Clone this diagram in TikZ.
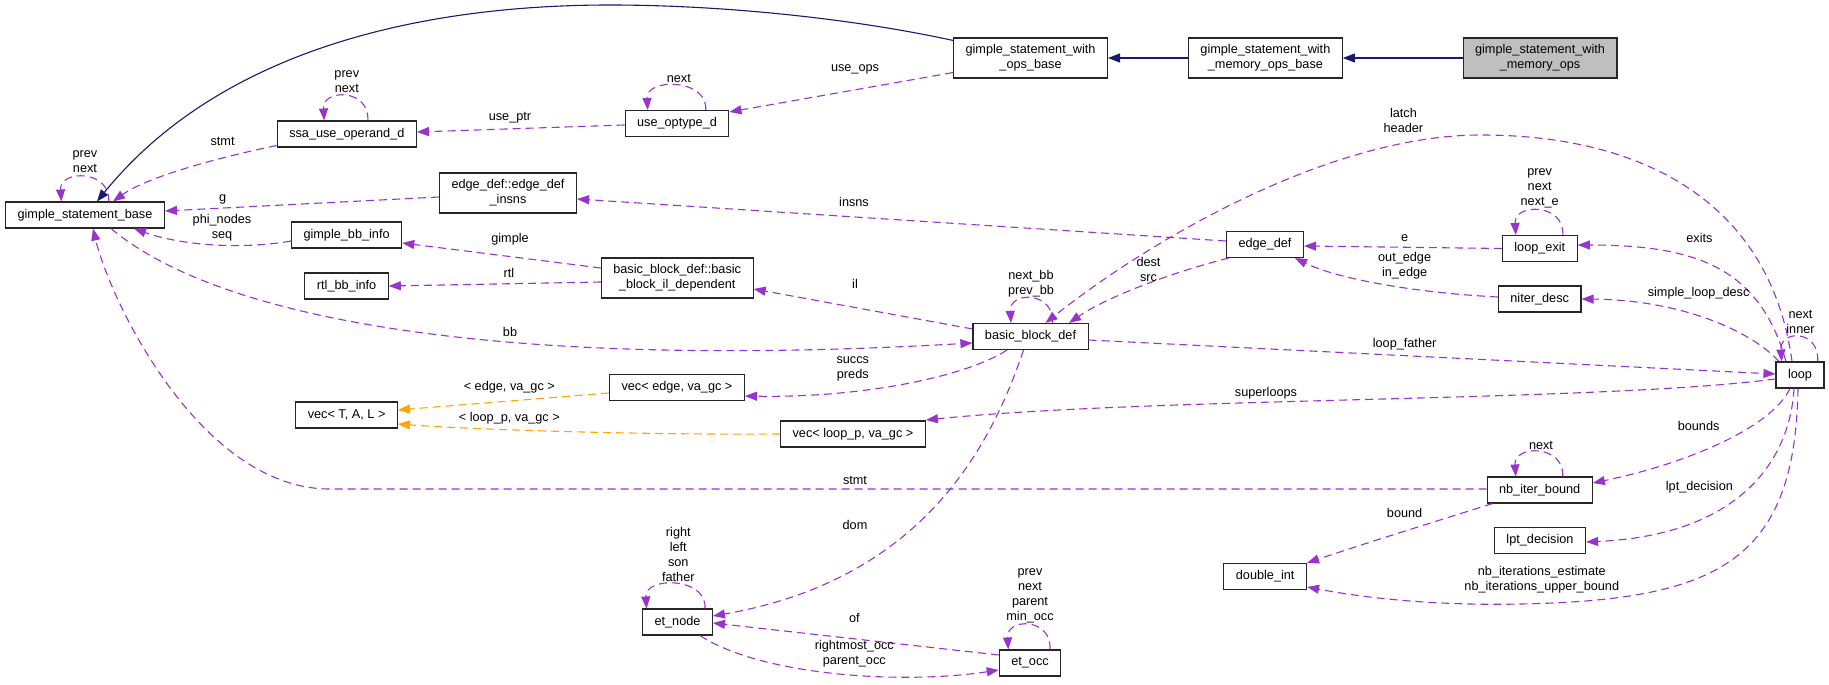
\documentclass[tikz,border=0pt]{standalone}
\usepackage{fontspec}
\setmainfont{Liberation Sans}
\usetikzlibrary{arrows.meta, positioning}
\definecolor{edgenavy}{HTML}{191970}
\definecolor{edgepurple}{HTML}{9A32CD}
\definecolor{edgeorange}{HTML}{FFA500}
\definecolor{focusgray}{HTML}{BFBFBF}
\tikzstyle{inharrow} = [draw=edgenavy, line width=1.1pt, -{Triangle[length=12pt,width=9pt]}]
\tikzstyle{memarrow} = [draw=edgepurple, line width=1.1pt, dash pattern=on 8pt off 5pt, -{Triangle[length=12pt,width=9pt]}]
\tikzstyle{tplarrow} = [draw=edgeorange, line width=1.1pt, dash pattern=on 8pt off 5pt, -{Triangle[length=12pt,width=9pt]}]

\begin{document}
\begin{tikzpicture}[
    x=1pt, y=-1pt,
    classblock/.style={rectangle, draw=black!85, line width=1.1pt, fill=white, inner xsep=12pt, inner ysep=3pt, minimum height=26pt, align=center, font=\fontsize{12.7}{15}\selectfont},
    twoline/.style={classblock, minimum height=40pt},
    focusblock/.style={twoline, fill=focusgray},
    edgelabel/.style={inner sep=0pt, align=center, font=\fontsize{12.7}{15}\selectfont},
]

\path[fill=white, use as bounding box] (0,0) rectangle (1829,685);

% Inheritance chain
\node[focusblock] (gswmo) at (1540,58) {gimple\_statement\_with\\\_memory\_ops};
\node[twoline] (gswmob) at (1265.4,58) {gimple\_statement\_with\\\_memory\_ops\_base};
\node[twoline] (gswob) at (1030.5,58) {gimple\_statement\_with\\\_ops\_base};

% Left columns
\node[classblock] (gsb) at (85,215) {gimple\_statement\_base};
\node[classblock] (ssa) at (346.8,134) {ssa\_use\_operand\_d};
\node[classblock] (gbbinfo) at (346.6,235) {gimple\_bb\_info};
\node[classblock] (rtlinfo) at (346.6,286) {rtl\_bb\_info};
\node[classblock] (vtal) at (346.6,415) {vec< T, A, L >};
\node[twoline] (insns) at (508,193) {edge\_def::edge\_def\\\_insns};
\node[classblock] (useop) at (677,123.5) {use\_optype\_d};
\node[twoline] (bbil) at (677.2,278) {basic\_block\_def::basic\\\_block\_il\_dependent};
\node[classblock] (vedge) at (677,387.5) {vec< edge, va\_gc >};
\node[classblock] (etnode) at (677.5,622) {et\_node};
\node[classblock] (vloop) at (853,434) {vec< loop\_p, va\_gc >};
\node[classblock] (bbd) at (1030.5,336.5) {basic\_block\_def};
\node[classblock] (etocc) at (1030,663) {et\_occ};

% Right columns
\node[classblock] (edef) at (1265,244.5) {edge\_def};
\node[classblock] (dint) at (1265.2,576.5) {double\_int};
\node[classblock] (lexit) at (1539.8,248.5) {loop\_exit};
\node[classblock] (niter) at (1539.7,299) {niter\_desc};
\node[classblock] (nib) at (1539.7,490) {nb\_iter\_bound};
\node[classblock] (lpt) at (1540,540.5) {lpt\_decision};
\node[classblock] (loop) at (1800,375) {loop};

% Inheritance arrows
\draw[inharrow] (gswmo) -- (gswmob);
\draw[inharrow] (gswmob) -- (gswob);
\draw[inharrow] ([yshift=-3pt]gswob.north west) .. controls (850,18) and (720,5) .. (610,5) .. controls (420,5) and (220,50) .. ([xshift=12pt]gsb.north);

% Self references
\foreach \n/\r/\l in {gsb/23.7/-23.7, ssa/21/-22.6, useop/28.7/-29.3, bbd/22/-19.5, lexit/23/-24, loop/17.7/-18.4, nib/23/-24, etnode/27.5/-31, etocc/20/-21.7} {
    \draw[memarrow] ([xshift=\r pt]\n.north) .. controls +(2,-32) and +(-2,-32) .. ([xshift=\l pt]\n.north);
}

% Members
\draw[memarrow] ([yshift=2pt]ssa.south west) .. controls (230,155) and (150,175) .. ([xshift=28pt]gsb.north);
\draw[memarrow] ([yshift=-1.5pt]useop.west) -- ([yshift=2pt]ssa.east);
\draw[memarrow] ([yshift=6pt]gswob.south west) -- ([yshift=-2pt]useop.north east);
\draw[memarrow] ([yshift=-4pt]insns.west) -- ([yshift=4pt]gsb.east);
\draw[memarrow] ([yshift=-6pt]gbbinfo.west) .. controls (240,250) and (180,245) .. ([xshift=49pt]gsb.south);
\draw[memarrow] ([yshift=10pt]bbil.west) -- ([yshift=-8pt]gbbinfo.east);
\draw[memarrow] ([yshift=-4pt]bbil.west) -- (rtlinfo.east);
\draw[memarrow] ([yshift=-6pt]bbd.north west) -- ([yshift=-11pt]bbil.east);
\draw[memarrow] ([yshift=3.5pt]edef.west) -- ([yshift=-6pt]insns.east);
\draw[memarrow] ([xshift=3pt]edef.south west) .. controls (1180,270) and (1110,295) .. ([xshift=38.5pt]bbd.north);
\draw[memarrow] ([xshift=-8pt]loop.north) .. controls (1770,200) and (1640,135) .. (1481,135) .. controls (1330,135) and (1150,240) .. ([xshift=15pt]bbd.north);
\draw[memarrow] (lexit.west) -- ([yshift=-1.5pt]edef.east);
\draw[memarrow] ([yshift=2pt]niter.west) .. controls (1420,293) and (1340,280) .. ([xshift=30pt]edef.south);
\draw[memarrow] ([xshift=-14pt]loop.north) .. controls (1760,270) and (1700,245) .. ([yshift=3.5pt]lexit.east);
\draw[memarrow] ([xshift=-21pt]loop.north) .. controls (1750,330) and (1680,300) .. (niter.east);
\draw[memarrow] ([yshift=-3.5pt]bbd.east) -- ([yshift=1pt]loop.west);
\draw[memarrow] ([yshift=-4pt]loop.west) .. controls (1600,402) and (1150,397) .. ([yshift=14pt]vloop.east);
\draw[memarrow] ([xshift=-10pt]loop.south) .. controls (1770,430) and (1680,465) .. ([yshift=7pt]nib.east);
\draw[memarrow] ([xshift=6pt]nib.south west) .. controls (1440,520) and (1360,545) .. (dint.north east);
\draw[memarrow] ([xshift=-6pt]loop.south) .. controls (1790,460) and (1740,535) .. ([yshift=-1.5pt]lpt.east);
\draw[memarrow] ([xshift=-2pt]loop.south) .. controls (1795,560) and (1720,600) .. (1521,604) .. controls (1430,606) and (1360,597) .. ([yshift=-10.5pt]dint.east);
\draw[memarrow] ([xshift=-7pt]bbd.south) .. controls (990,450) and (920,580) .. ([yshift=6pt]etnode.east);
\draw[memarrow] ([yshift=8pt]etocc.west) -- ([yshift=-1pt]etnode.east);
\draw[memarrow] ([xshift=22.5pt]etnode.south) .. controls (760,675) and (900,685) .. ([yshift=-7pt]etocc.west);
\draw[memarrow] ([xshift=-23.5pt]bbd.south) .. controls (960,380) and (850,398) .. ([yshift=-8.5pt]vedge.east);
\draw[memarrow] ([xshift=26pt]gsb.south) .. controls (220,320) and (500,370) .. ([yshift=-6.5pt]bbd.west);
\draw[memarrow] ([yshift=1pt]nib.west) -- (330,489) .. controls (200,489) and (110,300) .. ([xshift=8pt]gsb.south);

% Template instances
\draw[tplarrow] ([yshift=-5.5pt]vedge.west) -- ([yshift=5pt]vtal.east);
\draw[tplarrow] (vloop.west) .. controls (650,435) and (480,430) .. ([yshift=-9pt]vtal.east);

% Edge labels
\foreach \name/\x/\y/\txt in {
    lgsbself/85/162/{prev\\next}, lstmt/222.6/141/stmt, lssaself/346.8/81.5/{prev\\next},
    luseptr/510/118/use\_ptr, luseself/678.8/78/next, luseops/855/69/use\_ops,
    lg/222.6/199/g, lphi/222/228/{phi\_nodes\\seq}, lgimple/510/239/gimple, lrtl/509/273/rtl,
    linsns/854/202/insns, lil/855/284/il, lbbself/1031/284/{next\_bb\\prev\_bb},
    ldest/1148.5/269.5/{dest\\src}, llatch/1403.4/120.5/{latch\\header}, le/1404.6/238/e,
    lexitself/1539.7/188.5/{prev\\next\\next\_e}, lout/1404.6/265.5/{out\_edge\\in\_edge},
    lexits/1699.4/238/exits, lsld/1698.6/293/simple\_loop\_desc, lloopself/1800.5/322/{next\\inner},
    lfather/1404.6/344/loop\_father, lsuper/1266/393/superloops, lbounds/1698.6/426/bounds,
    lnibself/1541/445/next, lbound/1404.6/513/bound, llpt/1699.4/487/lpt\_decision,
    lnbit/1541.8/580/{nb\_iterations\_estimate\\nb\_iterations\_upper\_bound},
    ldom/855/525/dom, letnself/678.3/554.7/{right\\left\\son\\father}, lof/854.3/617.7/of,
    lrightmost/854.3/654.2/{rightmost\_occ\\parent\_occ}, letoccself/1030/596/{prev\\next\\parent\\min\_occ},
    lsuccs/852.8/369.2/{succs\\preds}, lvedge/509.3/387.3/{< edge, va\_gc >},
    lvloop/509.3/418.3/{< loop\_p, va\_gc >}, lbb/510/332/bb, lstmtnib/855/480/stmt} {
    \node[edgelabel] (\name) at (\x,\y) {\txt};
}

\end{tikzpicture}
\end{document}
